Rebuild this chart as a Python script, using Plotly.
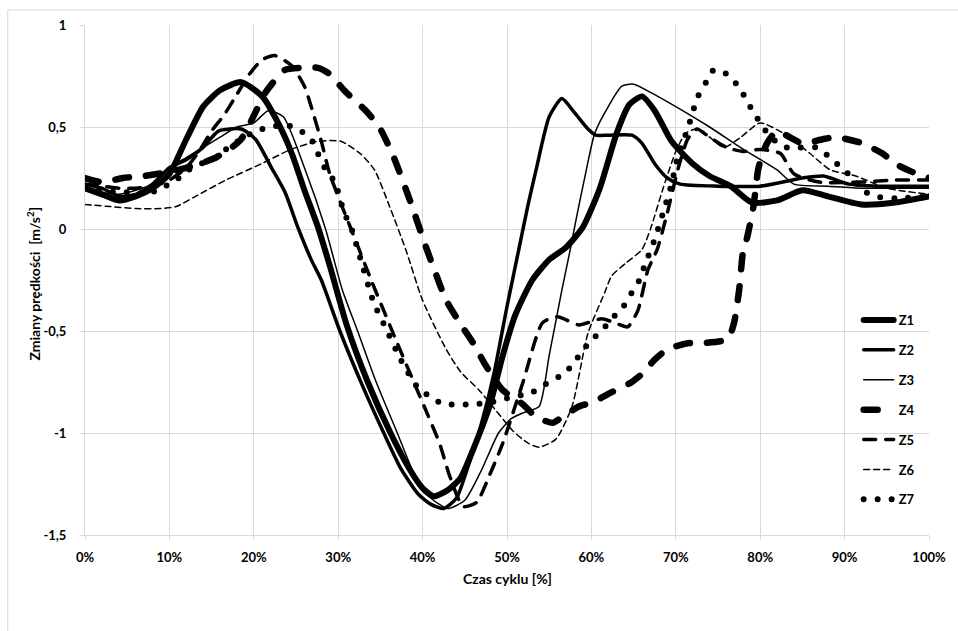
import plotly.graph_objects as go

# ---------------- data (x = cycle time in %, y = speed change in m/s^2) ----------------
z1_x = [0, 2, 4, 6, 8, 10, 12, 14, 16, 18.5, 21, 23, 24.5, 26, 27.6, 29, 31, 33.5, 36.2, 38.5, 40, 41.3, 43, 44.5, 46, 48, 49.5, 51, 53, 55, 57, 59, 61, 63, 64.5, 66, 67.5, 69.5, 72, 74, 76.5, 79, 82, 85, 88, 92, 96, 100]
z1_y = [0.2, 0.17, 0.14, 0.16, 0.2, 0.27, 0.44, 0.6, 0.68, 0.72, 0.65, 0.51, 0.37, 0.19, 0.01, -0.18, -0.47, -0.75, -1.0, -1.18, -1.27, -1.31, -1.28, -1.22, -1.08, -0.86, -0.62, -0.42, -0.25, -0.15, -0.09, 0.01, 0.2, 0.47, 0.61, 0.65, 0.58, 0.43, 0.32, 0.26, 0.21, 0.13, 0.14, 0.19, 0.16, 0.12, 0.13, 0.16]

z2_x = [0, 2, 4, 6, 8, 10, 12, 14, 15.8, 18.5, 20.2, 22.1, 23.7, 25.2, 26.8, 28, 30.2, 33, 35.4, 37.5, 39.5, 41, 42.5, 44, 45.5, 47, 48.5, 50, 51.4, 52.5, 53.5, 55, 56.5, 58, 59.6, 60.5, 62, 64.8, 66, 67.5, 69, 70.5, 75, 80, 85, 87.5, 90.5, 94, 100]
z2_y = [0.22, 0.2, 0.16, 0.17, 0.22, 0.3, 0.34, 0.4, 0.48, 0.49, 0.44, 0.3, 0.18, 0.01, -0.15, -0.25, -0.5, -0.78, -1.0, -1.18, -1.3, -1.35, -1.37, -1.32, -1.15, -0.95, -0.7, -0.38, -0.1, 0.12, 0.3, 0.55, 0.64, 0.57, 0.49, 0.46, 0.46, 0.46, 0.42, 0.32, 0.25, 0.22, 0.21, 0.21, 0.25, 0.26, 0.22, 0.21, 0.21]

z3_x = [0, 2, 4, 6, 8, 10, 12, 14, 16, 18, 20, 21.7, 23.5, 26, 28.5, 30.5, 32.3, 34.5, 37, 39, 41, 43, 45, 47, 49, 50.5, 52, 53.8, 55, 56.5, 57.5, 58.2, 59.3, 60.4, 62, 63.6, 65, 67, 70, 74, 78, 82, 84, 88, 92, 96, 100]
z3_y = [0.2, 0.18, 0.17, 0.19, 0.22, 0.3, 0.35, 0.4, 0.45, 0.5, 0.52, 0.58, 0.55, 0.3, 0.0, -0.3, -0.5, -0.75, -1.0, -1.2, -1.32, -1.37, -1.33, -1.18, -1.0, -0.93, -0.9, -0.87, -0.62, -0.3, -0.1, 0.05, 0.27, 0.47, 0.6, 0.7, 0.71, 0.67, 0.6, 0.5, 0.39, 0.29, 0.22, 0.21, 0.2, 0.2, 0.2]

z4_x = [0, 2, 4.5, 7, 10, 12, 14.3, 15.5, 17.4, 18.5, 19.7, 21.4, 23.7, 25.5, 27.6, 29, 30.7, 33.5, 35, 36.6, 38.5, 40.5, 41.3, 42.8, 44.4, 46, 47.5, 49.5, 51.9, 53.4, 55.4, 56.6, 58.5, 60.1, 62.4, 64.8, 66, 67.5, 69, 71.4, 73, 75.3, 76.2, 76.9, 77.5, 78, 78.4, 79.2, 79.8, 80.8, 82, 83.5, 85, 87.4, 89, 92.1, 94.5, 96, 98, 100]
z4_y = [0.25, 0.23, 0.25, 0.26, 0.28, 0.3, 0.33, 0.35, 0.4, 0.44, 0.53, 0.67, 0.78, 0.79, 0.79, 0.76, 0.68, 0.57, 0.49, 0.35, 0.14, -0.1, -0.19, -0.35, -0.46, -0.56, -0.67, -0.79, -0.86, -0.92, -0.95, -0.92, -0.87, -0.85, -0.8, -0.75, -0.71, -0.64, -0.59, -0.56, -0.56, -0.55, -0.54, -0.46, -0.3, -0.1, -0.05, 0.11, 0.3, 0.42, 0.48, 0.45, 0.42, 0.44, 0.45, 0.42, 0.37, 0.32, 0.28, 0.25]

z5_x = [0, 2, 4, 6, 8, 10, 12, 13.5, 15, 16.5, 18, 19.5, 21, 22.5, 24.5, 26, 26.8, 28, 29, 32, 34, 37, 40.5, 42, 43.2, 44.8, 46.4, 48, 49.5, 51.9, 54.2, 56, 58.5, 61.2, 62.8, 64.3, 65.5, 66.7, 67.8, 69, 70.3, 71.4, 72.5, 74, 76, 78, 80, 82.4, 84, 87, 92, 96, 100]
z5_y = [0.22, 0.21, 0.2, 0.2, 0.21, 0.24, 0.3, 0.38, 0.48, 0.56, 0.66, 0.76, 0.83, 0.85, 0.8, 0.7, 0.6, 0.43, 0.27, -0.05, -0.26, -0.56, -0.9, -1.05, -1.21, -1.36, -1.34, -1.2, -1.05, -0.75, -0.46, -0.43, -0.47, -0.44, -0.46, -0.48, -0.4, -0.2, -0.1, 0.08, 0.3, 0.44, 0.49, 0.45, 0.4, 0.38, 0.39, 0.37, 0.27, 0.23, 0.23, 0.24, 0.24]

z6_x = [0, 3, 6, 9, 10.8, 13.1, 16.7, 20.9, 24.4, 27.6, 30.3, 32.6, 34.3, 36, 38, 40, 42.8, 44.5, 46.7, 48.5, 50.7, 52.5, 53.8, 55.8, 57.7, 59.6, 61.6, 62.4, 64, 66, 67, 68.5, 70, 71.2, 72.5, 74, 75.7, 77.7, 80, 82.7, 85.9, 88.3, 91.3, 95, 100]
z6_y = [0.12, 0.11, 0.1, 0.1, 0.11, 0.16, 0.24, 0.32, 0.39, 0.43, 0.43, 0.37, 0.29, 0.12, -0.1, -0.35, -0.59, -0.7, -0.79, -0.88, -0.99, -1.05, -1.07, -1.03, -0.87, -0.51, -0.31, -0.23, -0.17, -0.1, 0.0, 0.2, 0.38, 0.47, 0.49, 0.45, 0.4, 0.45, 0.52, 0.47, 0.37, 0.29, 0.26, 0.2, 0.17]

z7_x = [0, 2, 4, 6, 7.3, 9, 10.8, 12.3, 14.3, 15.5, 17, 18.5, 20.2, 22, 23.7, 25.2, 26.8, 27.6, 28.4, 29.6, 30.7, 31.5, 32.6, 34.2, 35.8, 37.4, 39.3, 40.8, 42.5, 44, 46, 48, 50, 53, 54.6, 56.3, 57.7, 58.7, 60.1, 61.2, 62.4, 63.8, 64.8, 65.7, 66.3, 67.5, 68.5, 69.5, 70.2, 71.4, 72, 72.5, 73.6, 74.5, 76, 77.2, 78.3, 79.2, 80.2, 81.2, 83.1, 84.7, 86.6, 88.3, 89.6, 91, 92.1, 93.7, 96, 100]
z7_y = [0.2, 0.19, 0.18, 0.18, 0.17, 0.2, 0.24, 0.29, 0.33, 0.35, 0.4, 0.44, 0.48, 0.5, 0.51, 0.49, 0.44, 0.37, 0.3, 0.23, 0.08, 0.01, -0.14, -0.36, -0.5, -0.64, -0.77, -0.82, -0.86, -0.86, -0.86, -0.85, -0.83, -0.8, -0.76, -0.72, -0.67, -0.61, -0.54, -0.5, -0.44, -0.38, -0.31, -0.25, -0.18, -0.05, 0.08, 0.22, 0.35, 0.49, 0.57, 0.64, 0.72, 0.78, 0.76, 0.71, 0.64, 0.57, 0.51, 0.45, 0.4, 0.4, 0.4, 0.35, 0.3, 0.25, 0.19, 0.16, 0.15, 0.16]

series_names = ["Z1", "Z2", "Z3", "Z4", "Z5", "Z6", "Z7"]
series_x = [z1_x, z2_x, z3_x, z4_x, z5_x, z6_x, z7_x]
series_y = [z1_y, z2_y, z3_y, z4_y, z5_y, z6_y, z7_y]

x_tick_vals = [0, 10, 20, 30, 40, 50, 60, 70, 80, 90, 100]
x_tick_text = ["0%", "10%", "20%", "30%", "40%", "50%", "60%", "70%", "80%", "90%", "100%"]
y_tick_vals = [1, 0.5, 0, -0.5, -1, -1.5]
y_tick_text = ["1", "0,5", "0", "-0,5", "-1", "-1,5"]

x_title = "Czas cyklu [%]"
y_title = "Zmiany prędkości\u00a0\u00a0[m/s<sup>2</sup>]"

# ---------------- styles ----------------
styles = [
    dict(width=6.0, dash="solid"),
    dict(width=3.5, dash="solid"),
    dict(width=1.5, dash="solid"),
    dict(width=6.5, dash="14px,17px"),
    dict(width=3.5, dash="12px,10px"),
    dict(width=1.5, dash="6px,4px"),
    dict(width=6.0, dash="0px,14px"),
]

FONT = "Lato"
fig = go.Figure()
for i, (name, xs, ys) in enumerate(zip(series_names, series_x, series_y)):
    fig.add_trace(go.Scatter(
        x=xs, y=ys, name=name, mode="lines", legendgroup=name,
        line=dict(color="black", width=styles[i]["width"], dash=styles[i]["dash"],
                  shape="spline", smoothing=0.6),
        hoverinfo="skip",
    ))

L, R, T, B = 85, 21, 25, 96
W, H = 958, 631
pw, ph = W - L - R, H - T - B

fig.update_layout(
    width=W, height=H,
    margin=dict(l=L, r=R, t=T, b=B, pad=0),
    paper_bgcolor="white", plot_bgcolor="white",
    font=dict(family=FONT, size=12, color="black"),
    showlegend=True,
    legend=dict(
        x=(866 - L) / pw, y=(535 - 305) / ph, xanchor="left", yanchor="top",
        bgcolor="rgba(0,0,0,0)", borderwidth=0,
        font=dict(family=FONT, size=13, color="black", weight="bold"),
        tracegroupgap=10, itemwidth=30,
    ),
    xaxis=dict(
        range=[0, 100], tickmode="array", tickvals=x_tick_vals, ticktext=x_tick_text,
        showgrid=True, gridcolor="#d9d9d9", gridwidth=1,
        showline=True, linecolor="#d9d9d9", linewidth=1,
        ticks="outside", ticklen=4, tickcolor="#d9d9d9",
        tickfont=dict(family=FONT, size=13, color="black", weight="bold"),
        ticklabelstandoff=6,
        zeroline=False, fixedrange=True,
    ),
    yaxis=dict(
        range=[-1.5, 1], tickmode="array", tickvals=y_tick_vals, ticktext=y_tick_text,
        showgrid=True, gridcolor="#d9d9d9", gridwidth=1,
        showline=True, linecolor="#d9d9d9", linewidth=1,
        ticks="outside", ticklen=4, tickcolor="#d9d9d9",
        tickfont=dict(family=FONT, size=13, color="black", weight="bold"),
        ticklabelstandoff=11,
        zeroline=False, fixedrange=True,
    ),
    annotations=[
        dict(text=x_title, xref="paper", yref="paper", x=0.5, y=-(578 - 535) / ph,
             xanchor="center", yanchor="middle", showarrow=False,
             font=dict(family=FONT, size=14, color="black", weight="bold")),
        dict(text=y_title, xref="paper", yref="paper", x=-(L - 33) / pw, y=(535 - 283) / ph,
             xanchor="center", yanchor="middle", showarrow=False, textangle=-90,
             font=dict(family=FONT, size=14, color="black", weight="bold")),
    ],
    shapes=[
        dict(type="line", xref="paper", yref="paper",
             x0=-(L - 7) / pw, x1=-(L - 7) / pw, y0=(535 - 10) / ph, y1=-0.3,
             line=dict(color="#d9d9d9", width=1)),
        dict(type="line", xref="paper", yref="paper",
             x0=-(L - 7) / pw, x1=1.1, y0=(535 - 10) / ph, y1=(535 - 10) / ph,
             line=dict(color="#d9d9d9", width=1)),
    ],
)

post = """
var gd = document.getElementById('{plot_id}');
function rc(){
  var ps = gd.querySelectorAll('path.js-line');
  for (var i = 0; i < ps.length; i++) {
    ps[i].style.strokeLinecap = 'round';
    ps[i].style.strokeLinejoin = 'round';
  }
}
rc();
if (gd.on) { gd.on('plotly_afterplot', rc); }
setTimeout(rc, 50);
"""

fig.write_html("out.html", post_script=post, config={"staticPlot": True})
